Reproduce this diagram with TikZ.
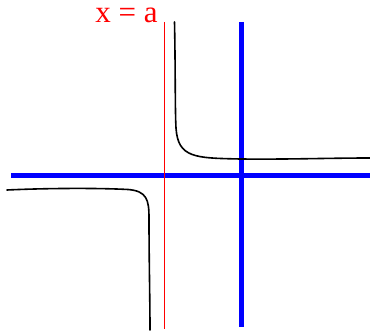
\documentclass[tikz,border=0pt]{standalone}
\usepackage{fontspec}
\setmainfont{Liberation Serif}
\begin{document}
\begin{tikzpicture}[x=1pt,y=-1pt,
  asym/.style={draw=blue,line width=4.5pt},
  redline/.style={draw=red,line width=1.8pt},
  curve/.style={draw=black,line width=1.6pt,line cap=round},
  lbl/.style={text=red,font=\fontsize{31}{33}\selectfont,inner sep=0pt,text height=15pt,text depth=0pt}]
\useasboundingbox (0,0) rectangle (370,331);
% asymptotes
\coordinate (hL) at (11,175.5);
\coordinate (hR) at (370,175.5);
\coordinate (vT) at (241.5,22);
\coordinate (vB) at (241.5,327);
\draw[asym] (hL) -- (hR);
\draw[asym] (vT) -- (vB);
% x = a line
\coordinate (rT) at (164.5,22);
\coordinate (rB) at (164.5,329);
\draw[redline] (rT) -- (rB);
\node[lbl,anchor=base] (label) at (126.5,22.7) {x = a};
% upper branch
\draw[curve] (174.5,22) .. controls (175.5,70) and (175,110) .. (176,128)
  .. controls (178,158) and (195,158) .. (240,159)
  .. controls (290,159.5) and (330,158) .. (370,158);
% lower branch
\draw[curve] (7,190) .. controls (50,188) and (100,188) .. (128,189.5)
  .. controls (147,191) and (149,200) .. (149,218)
  .. controls (149,260) and (150,300) .. (150,330);
\end{tikzpicture}
\end{document}
